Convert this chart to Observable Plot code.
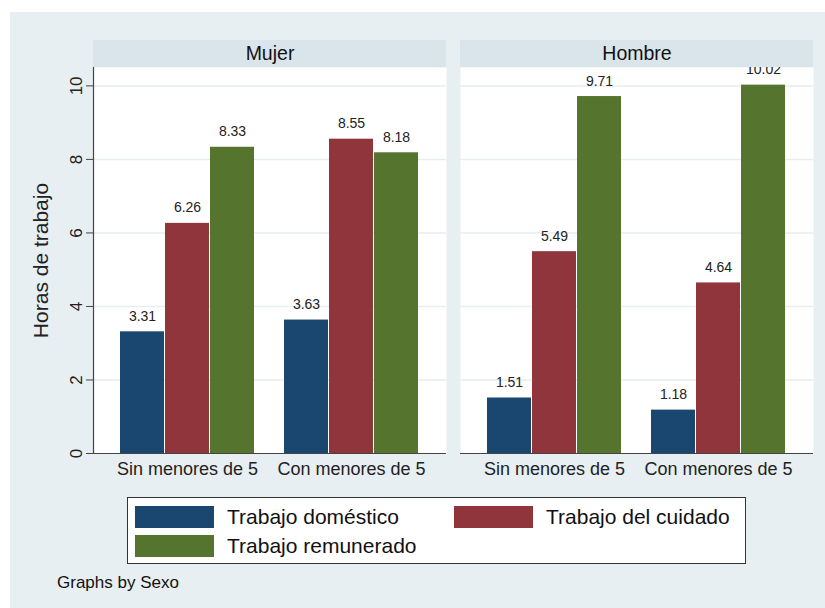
<!DOCTYPE html>
<html>
<head>
<meta charset="utf-8">
<script src="https://cdn.jsdelivr.net/npm/d3@7"></script>
<script src="https://cdn.jsdelivr.net/npm/@observablehq/plot@0.6"></script>
<style>
  html, body { margin: 0; padding: 0; background: #ffffff; }
  body { width: 825px; height: 608px; position: relative; overflow: hidden; font-family: "Liberation Sans", Arial, sans-serif; }
  #bg { position: absolute; left: 10px; top: 12px; width: 815px; height: 596px; background: #e8eff2; }
  #chart { position: absolute; left: 0; top: 0; }
  #legend { position: absolute; left: 127px; top: 497px; width: 617px; height: 65px; background: #ffffff; border: 1px solid #333333; }
  .item { position: absolute; display: flex; align-items: center; font-size: 21px; color: #111; white-space: nowrap; }
  .sw { width: 79px; height: 22px; margin-right: 13px; flex: none; }
  #note { position: absolute; left: 57px; top: 573px; font-size: 17px; color: #111; }
</style>
</head>
<body>
<div id="bg"></div>
<div id="chart"></div>
<div id="legend"></div>
<div id="note">Graphs by Sexo</div>
<script>
// ---- data ----
const sexos = ["Mujer", "Hombre"];
const grupos = ["Sin menores de 5", "Con menores de 5"];
const series = ["Trabajo doméstico", "Trabajo del cuidado", "Trabajo remunerado"];
const colores = ["#1a476f", "#90353b", "#55752f"];
// [doméstico, cuidado, remunerado]
const mujerSin = [3.31, 6.26, 8.33];
const mujerCon = [3.63, 8.55, 8.18];
const hombreSin = [1.51, 5.49, 9.71];
const hombreCon = [1.18, 4.64, 10.02];
const yTicks = [0, 2, 4, 6, 8, 10];
const yTitle = "Horas de trabajo";

const valores = {Mujer: {[grupos[0]]: mujerSin, [grupos[1]]: mujerCon},
                 Hombre: {[grupos[0]]: hombreSin, [grupos[1]]: hombreCon}};
const rows = [];
for (const s of sexos) for (const g of grupos) series.forEach((k, i) => {
  rows.push({sexo: s, grupo: g, serie: k, idx: i, valor: valores[s][g][i]});
});

const yTop = 10.5;
const barW = 45;

const marks = [
  Plot.frame({fill: "white", stroke: null}),
  Plot.gridY(yTicks.filter(t => t > 0), {stroke: "#e6eef1", strokeOpacity: 1, strokeWidth: 1.5}),
];
series.forEach((k, i) => {
  const d = rows.filter(r => r.idx === i);
  marks.push(Plot.barY(d, {
    fx: "sexo", x: "grupo", y: "valor", fill: colores[i],
    insetLeft: i * barW, insetRight: (series.length - 1 - i) * barW
  }));
  marks.push(Plot.text(d, {
    fx: "sexo", x: "grupo", y: "valor", text: r => r.valor.toFixed(2),
    dx: (i - 1) * barW, dy: -11, lineAnchor: "bottom", fontSize: 14, fill: "#222"
  }));
});
marks.push(
  Plot.ruleY([0], {stroke: "#444", strokeWidth: 1.2}),
  Plot.frame({anchor: "left", facetAnchor: "left", stroke: "#444", strokeWidth: 1.2}),
  Plot.axisY({
    ticks: yTicks, tickSize: 7, tickPadding: 5, tickRotate: -90, fontSize: 17,
    stroke: "#444", color: "#222",
    label: yTitle, labelAnchor: "center", labelOffset: 60, labelArrow: "none"
  }),
  Plot.axisX({tickSize: 0, tickPadding: 9, fontSize: 18, color: "#222", label: null}),
  Plot.rect(sexos, {fx: d => d, y1: () => yTop, y2: () => yTop, insetTop: -27, fill: "#d9e5eb"}),
  Plot.text(sexos, {fx: d => d, y: () => yTop, text: d => d, dy: -13.5, fontSize: 19.5, fill: "#111", lineAnchor: "middle"})
);

const chart = Plot.plot({
  width: 825,
  height: 490,
  marginLeft: 92,
  marginRight: 12,
  marginTop: 67,
  marginBottom: 37,
  style: {background: "transparent", fontFamily: "Liberation Sans, Arial, sans-serif"},
  fx: {domain: sexos, paddingInner: 0.0395, paddingOuter: 0, axis: null, label: null},
  x: {domain: grupos, paddingInner: 0.1818, paddingOuter: 0.1606, label: null},
  y: {domain: [0, yTop], label: null},
  marks
});
document.getElementById("chart").appendChild(chart);

// y-axis title font size
chart.querySelectorAll("g[aria-label='y-axis label'] text, g[aria-label='y-axis label']").forEach(e => e.setAttribute("font-size", "21"));

// legend
const lg = document.getElementById("legend");
const pos = [[7, 7], [326, 7], [7, 36]];
series.forEach((k, i) => {
  const it = document.createElement("div");
  it.className = "item";
  it.style.left = pos[i][0] + "px";
  it.style.top = pos[i][1] + "px";
  const sw = document.createElement("div");
  sw.className = "sw";
  sw.style.background = colores[i];
  const tx = document.createElement("span");
  tx.textContent = k;
  it.appendChild(sw); it.appendChild(tx);
  lg.appendChild(it);
});
</script>
</body>
</html>
